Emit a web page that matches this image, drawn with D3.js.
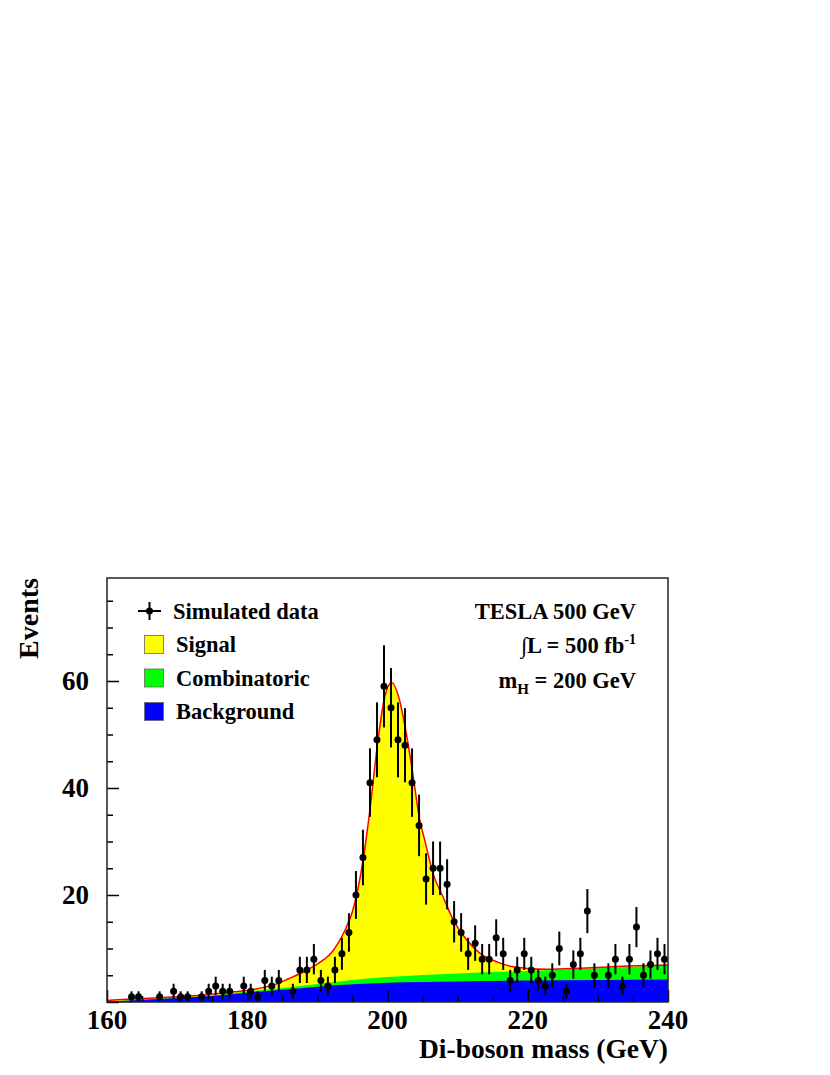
<html>
<head>
  <title>Di-boson mass</title>
  <script src="https://d3js.org/d3.v7.min.js" charset="utf-8"></script>
  <style>
    body { margin: 0; background: #fff; }
    text { font-family: "Liberation Serif", "Times New Roman", serif; font-weight: bold; fill: #000; }
  </style>
</head>
<body>
  <script>
    // measured bins (1 GeV wide, low edge) and event counts
    var binLow = [163,164,167,169,170,171,173,174,175,176,177,179,180,181,182,183,184,186,187,188,
                  189,190,191,192,193,194,195,196,197,198,199,200,201,202,203,204,205,206,207,208,
                  209,210,211,212,213,214,215,216,217,218,219,220,221,222,223,224,225,226,227,228,
                  229,231,232,233,234,235,236,237,238,239];
    var counts = [1,1,1,2,1,1,1,2,3,2,2,3,2,1,4,3,4,2,6,6,
                  8,4,3,6,9,13,20,27,41,49,59,55,49,48,41,33,23,25,25,22,
                  15,13,9,11,8,8,12,9,4,6,9,6,4,3,5,10,2,7,9,17,
                  5,5,8,3,8,14,5,7,9,8];

    // fit curve
    var fitMass  = [160,163,166,170,174,178,181,184,186,188,189.5,191,192,193,194,195,195.6,196.6,197.5,198.6,199.6,
                    200.6,201.6,202.6,203.6,204.6,205.3,206.5,208,209.4,211.3,213.2,215.6,217.9,222.7,227.5,232.2,240];
    var fitTotal = [0.3,0.5,0.7,1.0,1.3,1.9,2.4,3.3,4.4,5.6,6.7,8.0,9.2,11.1,13.6,16.9,20,27.2,36,48.5,57,
                    59.7,57,50.8,42.7,34,30.3,24,19.4,15.3,11.6,9.1,7.5,6.6,6.1,6.3,6.6,6.9];

    // background and combinatoric components
    var compMass = [160,165,170,175,180,185,190,195,200,210,220,230,240];
    var bgVal    = [0.05,0.4,0.75,1.1,1.75,2.3,2.85,3.3,3.6,3.85,4.0,4.1,4.2];
    var combVal  = [0,0.02,0.05,0.1,0.2,0.3,0.5,0.8,1.05,1.5,1.8,2.2,2.6];

    var xTicks = [160,180,200,220,240];
    var yTicks = [20,40,60];

    var legendLabels = ["Simulated data","Signal","Combinatoric","Background"];
    var legendColors = [null,"#ffff00","#00ff00","#0000ff"];

    var width = 830,
        height = 1075;

    // frame edges (note: "top" is reserved on window)
    var fL = 107, fR = 668, fT = 578, fB = 1002;

    var svg = d3.select("body")
                .append("svg")
                .attr("width", width)
                .attr("height", height);

    var x = d3.scaleLinear().domain([160, 240]).range([fL, fR]);
    var y = d3.scaleLinear().domain([0, 79.25]).range([fB, fT]);

    var plot = svg.append("g");

    // stacked fills: draw total first, then combinatoric+bg, then bg
    var fitPts = fitMass.map(function(m, i){ return [m, fitTotal[i]]; });
    var combPts = compMass.map(function(m, i){ return [m, bgVal[i] + combVal[i]]; });
    var bgPts = compMass.map(function(m, i){ return [m, bgVal[i]]; });

    var area = d3.area()
                 .x(function(d){ return x(d[0]); })
                 .y0(y(0))
                 .y1(function(d){ return y(d[1]); })
                 .curve(d3.curveMonotoneX);

    plot.append("path").datum(fitPts).attr("d", area).attr("fill", "#ffff00");
    plot.append("path").datum(combPts).attr("d", area).attr("fill", "#00ff00");
    plot.append("path").datum(bgPts).attr("d", area).attr("fill", "#0000ff");

    var line = d3.line()
                 .x(function(d){ return x(d[0]); })
                 .y(function(d){ return y(d[1]); })
                 .curve(d3.curveMonotoneX);

    plot.append("path")
        .datum(fitPts)
        .attr("d", line)
        .attr("fill", "none")
        .attr("stroke", "#ff0000")
        .attr("stroke-width", 1.5);

    // data points with sqrt(N) errors
    var pts = binLow.map(function(b, i){ return {m: b + 0.5, n: counts[i]}; });

    plot.selectAll(".err")
        .data(pts)
        .enter()
        .append("line")
        .attr("class", "err")
        .attr("x1", function(d){ return x(d.m); })
        .attr("x2", function(d){ return x(d.m); })
        .attr("y1", function(d){ return y(Math.max(0, d.n - Math.sqrt(d.n))); })
        .attr("y2", function(d){ return y(d.n + Math.sqrt(d.n)); })
        .attr("stroke", "#000")
        .attr("stroke-width", 2);

    plot.selectAll(".pt")
        .data(pts)
        .enter()
        .append("circle")
        .attr("class", "pt")
        .attr("cx", function(d){ return x(d.m); })
        .attr("cy", function(d){ return y(d.n); })
        .attr("r", 3.5)
        .attr("fill", "#000");

    // axes, ticks inside the frame
    var xAxis = d3.axisTop(x).tickValues(d3.range(160, 241, 5))
                  .tickSize(6).tickFormat("");
    svg.append("g").attr("transform", "translate(0," + fB + ")").call(xAxis)
       .call(function(g){
         g.select(".domain").remove();
         g.selectAll(".tick line")
          .attr("y2", function(d){ return d % 20 == 0 ? -12 : -6; })
          .attr("stroke", "#000").attr("stroke-width", 1.5);
       });

    var yAxis = d3.axisRight(y).tickValues(d3.range(0, 80, 5))
                  .tickSize(6).tickFormat("");
    svg.append("g").attr("transform", "translate(" + fL + ",0)").call(yAxis)
       .call(function(g){
         g.select(".domain").remove();
         g.selectAll(".tick line")
          .attr("x2", function(d){ return d % 20 == 0 ? 12 : 6; })
          .attr("stroke", "#000").attr("stroke-width", 1.5);
       });

    svg.append("rect")
       .attr("x", fL).attr("y", fT)
       .attr("width", fR - fL).attr("height", fB - fT)
       .attr("fill", "none")
       .attr("stroke", "#222")
       .attr("stroke-width", 1.5);

    svg.selectAll(".xlab")
       .data(xTicks)
       .enter()
       .append("text")
       .attr("class", "xlab")
       .attr("x", function(d){ return x(d); })
       .attr("y", 1029)
       .attr("text-anchor", "middle")
       .style("font-size", "27px")
       .text(function(d){ return d; });

    svg.selectAll(".ylab")
       .data(yTicks)
       .enter()
       .append("text")
       .attr("class", "ylab")
       .attr("x", 89)
       .attr("y", function(d){ return y(d) + 9; })
       .attr("text-anchor", "end")
       .style("font-size", "27px")
       .text(function(d){ return d; });

    svg.append("text")
       .attr("x", fR)
       .attr("y", 1058)
       .attr("text-anchor", "end")
       .style("font-size", "27.5px")
       .text("Di-boson mass (GeV)");

    svg.append("text")
       .attr("transform", "translate(38," + fT + ") rotate(-90)")
       .attr("text-anchor", "end")
       .style("font-size", "28px")
       .text("Events");

    // legend
    var leg = svg.append("g");
    var rowY = [611, 644.5, 678, 711.5];

    leg.append("line").attr("x1", 138).attr("x2", 161).attr("y1", rowY[0]).attr("y2", rowY[0])
       .attr("stroke", "#000").attr("stroke-width", 2);
    leg.append("line").attr("x1", 149.5).attr("x2", 149.5).attr("y1", rowY[0] - 9).attr("y2", rowY[0] + 9)
       .attr("stroke", "#000").attr("stroke-width", 2);
    leg.append("circle").attr("cx", 149.5).attr("cy", rowY[0]).attr("r", 3.5).attr("fill", "#000");

    leg.selectAll(".box")
       .data(legendColors.slice(1))
       .enter()
       .append("rect")
       .attr("class", "box")
       .attr("x", 144.5)
       .attr("y", function(d, i){ return rowY[i + 1] - 9; })
       .attr("width", 19)
       .attr("height", 18)
       .attr("fill", function(d){ return d; })
       .attr("stroke", "#666")
       .attr("stroke-width", 0.8);

    leg.selectAll(".ltxt")
       .data(legendLabels)
       .enter()
       .append("text")
       .attr("class", "ltxt")
       .attr("x", function(d, i){ return i == 0 ? 173 : 176; })
       .attr("y", function(d, i){ return rowY[i] + 7.5; })
       .style("font-size", "22.5px")
       .text(function(d){ return d; });

    // run info
    var info = svg.append("g").style("font-size", "22.5px");
    info.append("text").attr("x", 636).attr("y", 619).attr("text-anchor", "end").text("TESLA 500 GeV");

    var lum = info.append("text").attr("x", 636).attr("y", 653).attr("text-anchor", "end");
    lum.append("tspan").text("\u222BL = 500 fb");
    lum.append("tspan").attr("dy", -9).style("font-size", "14px").text("-1");

    var mh = info.append("text").attr("x", 636).attr("y", 688).attr("text-anchor", "end");
    mh.append("tspan").text("m");
    mh.append("tspan").attr("dy", 6).style("font-size", "15px").text("H");
    mh.append("tspan").attr("dy", -6).text(" = 200 GeV");
  </script>
</body>
</html>
